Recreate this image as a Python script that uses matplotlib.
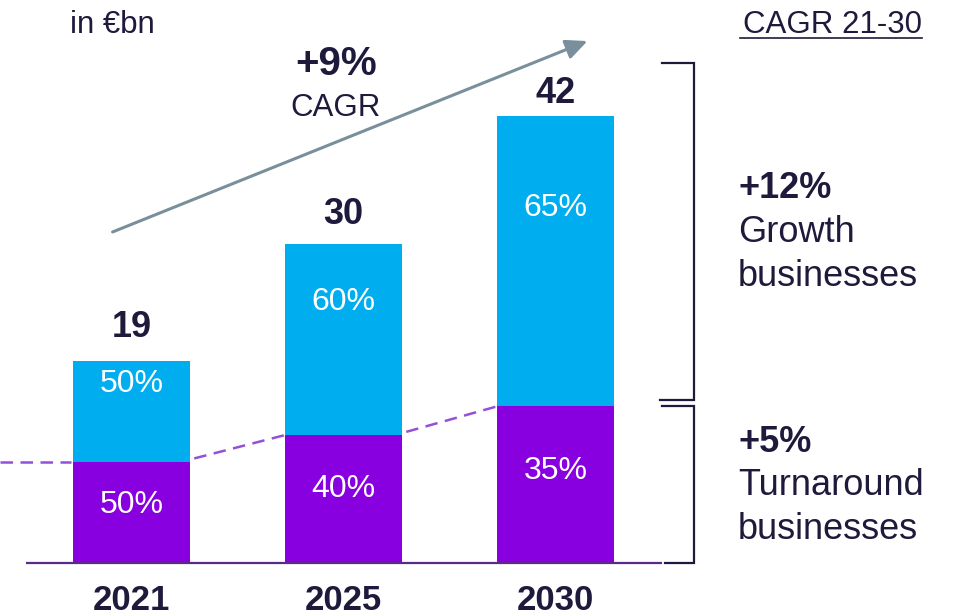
import matplotlib
matplotlib.use("Agg")
import matplotlib.pyplot as plt
from matplotlib.patches import FancyArrowPatch

plt.rcParams['font.family'] = ['Liberation Sans', 'DejaVu Sans']

# data
years = ["2021", "2025", "2030"]
totals = [19, 30, 42]
turnaround_share = [50, 40, 35]
growth_share = [50, 60, 65]

# colours
cyan = "#00AEEF"
purple = "#8800E0"
dash_purple = "#9350D8"
base_purple = "#5B2A86"
navy = "#1E1A3C"
arrow_grey = "#7A8F9C"

x = list(range(len(years)))
turnaround = [t * s / 100 for t, s in zip(totals, turnaround_share)]
growth = [t * s / 100 for t, s in zip(totals, growth_share)]
bar_w = 0.552

fig = plt.figure(figsize=(9.55, 6.13), dpi=100)
ax = fig.add_axes([0, 0, 1, 1])
ax.set_xlim(-0.6203, 3.8844)
ax.set_ylim(-4.755, 52.966)
ax.axis("off")

# stacked bars
ax.bar(x, turnaround, width=bar_w, color=purple, zorder=3)
ax.bar(x, growth, bottom=turnaround, width=bar_w, color=cyan, zorder=3)

# baseline
ax.plot([-0.5, 2.5], [0, 0], color=base_purple, lw=1.6, zorder=4, solid_capstyle="butt")

# dashed line linking the turnaround tops
half = bar_w / 2
ax.plot([-0.6203, x[0] - half - 0.01], [turnaround[0], turnaround[0]],
        color=dash_purple, lw=1.8, dashes=(5, 3), zorder=2)
for i in range(len(x) - 1):
    ax.plot([x[i] + half + 0.02, x[i + 1] - half], [turnaround[i] + 0.3, turnaround[i + 1]],
            color=dash_purple, lw=1.8, dashes=(5, 3), zorder=2)

# total labels above bars
total_offsets = [17, 14.5, 10]
for xi, t, off in zip(x, totals, total_offsets):
    ax.annotate(str(t), (xi, t), xytext=(0, off), textcoords="offset points",
                ha="center", va="baseline", fontsize=26, fontweight="bold", color=navy)

# percentage labels inside segments
growth_label_y = [16.1, 23.75, 32.6]
turn_label_y = [4.66, 6.17, 7.86]
for xi, gs, ts, gy, ty in zip(x, growth_share, turnaround_share, growth_label_y, turn_label_y):
    ax.text(xi, gy, f"{gs}%", ha="center", va="baseline", fontsize=23, color="white", zorder=5)
    ax.text(xi, ty, f"{ts}%", ha="center", va="baseline", fontsize=23, color="white", zorder=5)

# year labels
for xi, yr in zip(x, years):
    ax.text(xi, -4.45, yr, ha="center", va="baseline", fontsize=25, fontweight="bold",
            color=navy)

# CAGR arrow
arr = FancyArrowPatch((0.1152, 0.6199), (0.6178, 0.9347), transform=ax.transAxes,
                      arrowstyle="-|>,head_length=0.65,head_width=0.3", mutation_scale=20,
                      color=arrow_grey, lw=2.2, zorder=1)
ax.add_patch(arr)
ax.text(0.3518, 0.8777, "+9%", transform=ax.transAxes, ha="center", va="baseline",
        fontsize=29, fontweight="bold", color=navy)
ax.text(0.3518, 0.8108, "CAGR", transform=ax.transAxes, ha="center", va="baseline",
        fontsize=22.5, color=navy)

# top texts
ax.text(0.0733, 0.9462, "in €bn", transform=ax.transAxes, ha="left", va="baseline",
        fontsize=22.5, color=navy)
ax.text(0.9654, 0.9462, "CAGR 21-30", transform=ax.transAxes, ha="right", va="baseline",
        fontsize=22.5, color=navy)
ax.plot([0.7749, 0.9654], [0.9380, 0.9380], transform=ax.transAxes, color=navy, lw=1.2)

# brackets
bx0, bx1 = 2.502, 2.653
ax.plot([bx0, bx1, bx1, bx0 - 0.01], [47.0, 47.0, 15.3, 15.3], color=navy, lw=1.6,
        solid_joinstyle="miter")
ax.plot([bx0, bx1, bx1, bx0 + 0.015], [turnaround[2], turnaround[2], 0, 0], color=navy, lw=1.6,
        solid_joinstyle="miter")

# right side labels
ax.text(0.7728, 0.677, "+12%", transform=ax.transAxes, va="baseline", fontsize=26,
        fontweight="bold", color=navy)
ax.text(0.7728, 0.6052, "Growth", transform=ax.transAxes, va="baseline", fontsize=26, color=navy)
ax.text(0.7728, 0.5334, "businesses", transform=ax.transAxes, va="baseline", fontsize=26, color=navy)
ax.text(0.7728, 0.2626, "+5%", transform=ax.transAxes, va="baseline", fontsize=26,
        fontweight="bold", color=navy)
ax.text(0.7728, 0.1925, "Turnaround", transform=ax.transAxes, va="baseline", fontsize=26, color=navy)
ax.text(0.7728, 0.1207, "businesses", transform=ax.transAxes, va="baseline", fontsize=26, color=navy)

fig.savefig("out.png", dpi=100)
